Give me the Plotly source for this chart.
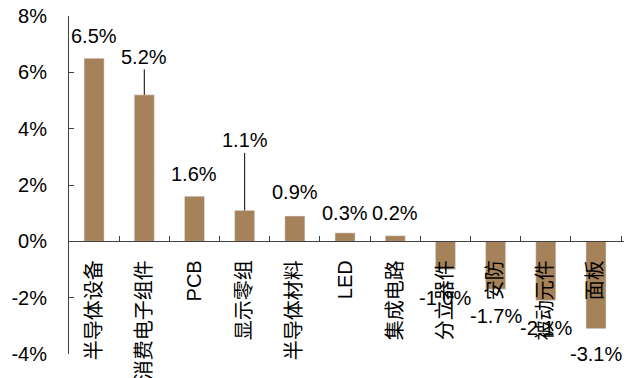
import plotly.graph_objects as go

# Category names and monthly change (%) for each segment
categories = ["半导体设备", "消费电子组件", "PCB", "显示零组", "半导体材料", "LED",
              "集成电路", "分立器件", "安防", "被动元件", "面板"]
values = [6.5, 5.2, 1.6, 1.1, 0.9, 0.3, 0.2, -1.0, -1.7, -2.1, -3.1]
y_ticks = [-4, -2, 0, 2, 4, 6, 8]

# Label placement: pixel offset from the bar end, and which labels get a leader line
label_shift = [22, 38, 22, 70, 24, 20, 23, -28, -27, -28, -25]
leader = [False, True, False, True, False, False, False, False, False, False, False]

BAR = "#A6825A"
AXIS = "#404040"
FONT = "Liberation Sans, Arial, Noto Sans CJK SC, sans-serif"

fig = go.Figure(go.Bar(x=categories, y=values, marker_color=BAR, width=0.4))

for cat, v, dy, lead in zip(categories, values, label_shift, leader):
    text = f"{v:.1f}%"
    if lead:
        fig.add_annotation(x=cat, y=v, text=text, showarrow=True, arrowhead=0,
                           arrowwidth=1, arrowcolor="#000000", ax=0, ay=-dy,
                           standoff=0, font=dict(size=20, color="#000000", family=FONT))
    else:
        fig.add_annotation(x=cat, y=v, text=text, showarrow=False, yanchor="middle",
                           yshift=dy, font=dict(size=20, color="#000000", family=FONT))

fig.update_layout(
    width=639, height=378,
    margin=dict(l=69, r=15, t=16, b=24),
    paper_bgcolor="white", plot_bgcolor="white",
    showlegend=False,
    font=dict(family=FONT, size=20, color="#000000"),
    xaxis=dict(
        anchor="free", position=1/3,
        showline=True, linecolor=AXIS, linewidth=1,
        ticks="inside", ticklen=5, tickcolor=AXIS, tickson="boundaries",
        tickangle=-90, showgrid=False, zeroline=False, automargin=False,
        ticklabelstandoff=10,
        tickfont=dict(size=20, family="Liberation Sans, Noto Sans CJK SC"),
    ),
    yaxis=dict(
        range=[-4, 8], tickvals=y_ticks, ticktext=[f"{t}%" for t in y_ticks],
        showline=True, linecolor=AXIS, linewidth=1,
        ticks="inside", ticklen=5, tickcolor=AXIS,
        showgrid=False, zeroline=False, automargin=False,
        ticklabelstandoff=17,
        tickfont=dict(size=20),
    ),
)

fig.write_html("out.html")
